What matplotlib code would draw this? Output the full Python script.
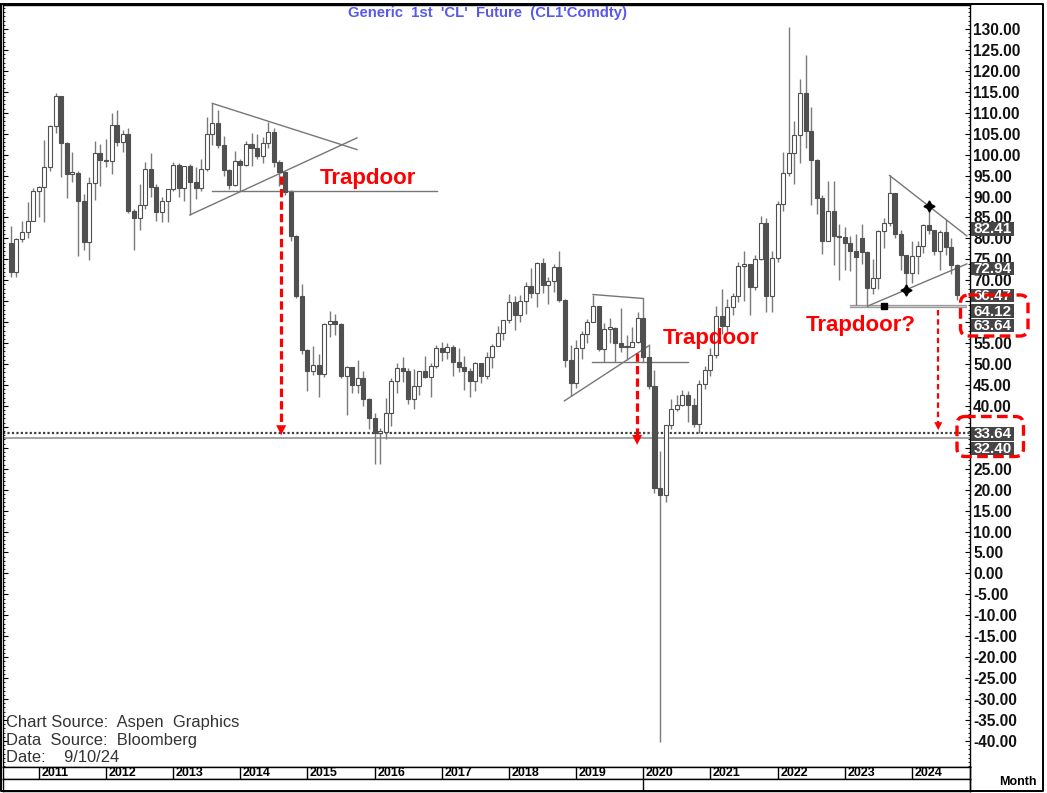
import numpy as np
import pandas as pd
import matplotlib
matplotlib.use('Agg')
import matplotlib.pyplot as plt
from matplotlib.patches import FancyBboxPatch, Rectangle
from matplotlib import font_manager as fm

# ---------------- data (monthly CL1 candles, Aug 2010 .. Sep 2024) ----------------
first_month = '2010-08'
last_month = '2024-09'

opens = [78.95, 71.92, 79.97, 81.43, 84.11,
         91.38, 92.19, 96.97, 106.72, 113.93, 102.70, 95.42, 95.70, 88.81, 79.20, 93.19, 100.36,
         98.83, 98.48, 107.07, 103.02, 104.87, 86.53, 84.96, 88.06, 96.47, 92.19, 86.24, 88.91,
         91.82, 97.49, 92.05, 97.23, 93.46, 91.97, 96.56, 105.03, 107.65, 102.33, 96.38, 92.72,
         98.42, 97.49, 102.59, 101.58, 99.74, 102.71, 105.37, 98.17, 95.96, 91.16, 80.54, 66.15,
         53.27, 48.24, 49.76, 47.60, 59.63, 60.30, 59.47, 47.12, 49.20, 45.09, 46.59, 41.65,
         37.04, 33.62, 33.75, 38.34, 45.92, 49.10, 48.33, 41.60, 44.70, 48.24, 46.86, 49.44,
         53.72, 52.81, 54.01, 50.60, 49.33, 48.32, 46.04, 50.17, 47.23, 51.67, 54.38, 57.40,
         60.42, 64.73, 61.64, 64.94, 68.57, 67.04, 74.15, 68.76, 69.80, 73.25, 65.31, 50.93,
         45.41, 53.79, 57.22, 60.14, 63.91, 53.50, 58.47, 58.58, 55.10, 54.07, 54.18, 55.17,
         61.06, 51.56, 44.76, 20.48, 18.84, 35.49, 39.27, 40.27, 42.61, 40.22, 35.79, 45.34,
         48.52, 52.20, 61.50, 59.16, 63.58, 66.32, 73.47, 73.95, 68.50, 75.03, 83.57, 66.18,
         75.21, 88.15, 95.72, 100.28, 104.69, 114.67, 105.76, 98.62, 89.55, 79.49, 86.53, 80.55,
         80.26, 78.87, 77.05, 80.10, 76.78, 68.09, 70.64, 81.80, 83.63, 90.79, 81.02, 75.96,
         71.65, 75.85, 78.26, 83.17, 81.93, 76.99, 81.54, 77.91, 73.55]
highs = [82.98, 80.06, 84.21, 88.63, 92.06,
         92.58, 103.41, 107.00, 114.83, 114.00, 103.00, 100.62, 96.00, 90.50, 94.65, 103.37, 102.44,
         103.74, 109.95, 110.55, 106.00, 106.43, 87.00, 92.94, 98.30, 100.42, 93.00, 90.00, 91.00,
         98.24, 98.00, 97.35, 97.80, 97.00, 99.00, 108.90, 112.24, 110.70, 104.50, 96.50, 100.75,
         98.90, 103.20, 105.20, 104.99, 104.20, 107.68, 106.30, 98.60, 96.00, 91.50, 80.90, 69.00,
         53.50, 54.24, 52.50, 59.90, 62.58, 61.90, 59.70, 49.50, 49.30, 50.90, 48.40, 42.00,
         38.39, 34.70, 41.90, 46.78, 50.21, 51.67, 49.00, 48.75, 48.40, 51.93, 50.20, 54.51,
         55.24, 54.94, 54.60, 53.76, 52.00, 49.00, 50.43, 50.20, 52.86, 54.90, 59.05, 60.51,
         66.66, 66.30, 66.55, 69.56, 72.90, 74.46, 75.27, 70.90, 73.90, 76.90, 65.50, 54.55,
         55.75, 57.81, 60.73, 66.60, 63.90, 59.90, 60.90, 58.80, 63.38, 56.90, 58.75, 62.34,
         65.65, 54.70, 48.66, 29.13, 35.50, 41.63, 42.50, 43.78, 43.50, 41.90, 46.26, 49.43,
         53.93, 63.81, 67.98, 65.47, 67.00, 74.45, 76.98, 74.00, 76.00, 85.41, 84.97, 76.90,
         88.84, 100.54, 130.50, 108.00, 118.00, 123.68, 111.45, 98.90, 90.40, 93.64, 93.74, 83.34,
         82.66, 80.60, 81.00, 83.53, 77.00, 75.06, 82.00, 84.89, 95.03, 90.90, 82.00, 76.00,
         79.29, 79.30, 83.50, 87.67, 82.00, 82.00, 84.52, 80.20, 73.90]
lows = [70.76, 70.76, 79.03, 80.01, 84.23,
        85.11, 83.85, 96.00, 105.20, 94.63, 89.61, 93.50, 75.71, 77.11, 74.95, 89.17, 92.52,
        97.00, 95.44, 102.00, 100.68, 86.00, 77.28, 82.00, 86.90, 90.00, 84.05, 84.00, 84.00,
        91.30, 90.00, 89.00, 85.61, 89.30, 91.30, 96.00, 102.22, 101.50, 95.00, 91.77, 92.50,
        91.24, 97.30, 97.40, 98.90, 98.00, 101.70, 97.00, 92.50, 90.40, 79.44, 65.69, 52.44,
        43.58, 47.50, 42.03, 47.00, 56.50, 57.00, 46.68, 37.75, 43.20, 43.00, 40.00, 34.53,
        26.19, 26.05, 32.00, 35.24, 43.00, 45.80, 40.50, 39.19, 42.50, 46.60, 42.20, 49.00,
        50.70, 51.20, 47.10, 48.20, 43.76, 42.05, 43.57, 45.58, 46.50, 49.10, 54.20, 55.80,
        59.90, 58.07, 59.95, 62.00, 65.80, 63.59, 67.00, 64.43, 67.30, 64.80, 49.41, 42.36,
        44.35, 51.20, 55.00, 60.00, 53.00, 50.60, 55.00, 50.52, 52.80, 50.99, 54.00, 55.00,
        50.58, 44.00, 19.27, -40.32, 17.00, 34.40, 38.70, 40.00, 36.13, 34.92, 33.64, 44.00,
        47.20, 51.50, 57.25, 57.60, 61.60, 64.90, 65.01, 61.74, 67.60, 74.96, 62.43, 62.43,
        74.27, 86.55, 95.00, 92.93, 97.90, 101.50, 88.00, 85.73, 76.25, 79.30, 73.60, 70.08,
        72.46, 72.25, 64.12, 73.80, 63.64, 66.80, 67.80, 77.60, 83.00, 80.10, 72.37, 67.71,
        69.30, 71.40, 76.60, 81.00, 76.00, 72.48, 76.00, 71.46, 65.27]
closes = [71.92, 79.97, 81.43, 84.11, 91.38,
          92.19, 96.97, 106.72, 113.93, 102.70, 95.42, 95.70, 88.81, 79.20, 93.19, 100.36, 98.83,
          98.48, 107.07, 103.02, 104.87, 86.53, 84.96, 88.06, 96.47, 92.19, 86.24, 88.91, 91.82,
          97.49, 92.05, 97.23, 93.46, 91.97, 96.56, 105.03, 107.65, 102.33, 96.38, 92.72, 98.42,
          97.49, 102.59, 101.58, 99.74, 102.71, 105.37, 98.17, 95.96, 91.16, 80.54, 66.15, 53.27,
          48.24, 49.76, 47.60, 59.63, 60.30, 59.47, 47.12, 49.20, 45.09, 46.59, 41.65, 37.04,
          33.62, 33.75, 38.34, 45.92, 49.10, 48.33, 41.60, 44.70, 48.24, 46.86, 49.44, 53.72,
          52.81, 54.01, 50.60, 49.33, 48.32, 46.04, 50.17, 47.23, 51.67, 54.38, 57.40, 60.42,
          64.73, 61.64, 64.94, 68.57, 67.04, 74.15, 68.76, 69.80, 73.25, 65.31, 50.93, 45.41,
          53.79, 57.22, 60.14, 63.91, 53.50, 58.47, 58.58, 55.10, 54.07, 54.18, 55.17, 61.06,
          51.56, 44.76, 20.48, 18.84, 35.49, 39.27, 40.27, 42.61, 40.22, 35.79, 45.34, 48.52,
          52.20, 61.50, 59.16, 63.58, 66.32, 73.47, 73.95, 68.50, 75.03, 83.57, 66.18, 75.21,
          88.15, 95.72, 100.28, 104.69, 114.67, 105.76, 98.62, 89.55, 79.49, 86.53, 80.55, 80.26,
          78.87, 77.05, 75.67, 76.78, 68.09, 70.64, 81.80, 83.63, 90.79, 81.02, 75.96, 71.65,
          75.85, 78.26, 83.17, 81.93, 76.99, 81.54, 77.91, 73.55, 66.47]

year_labels = [str(y) for y in range(2011, 2025)]
y_ticks = list(range(-40, 131, 5))
hidden_tick_labels = [65, 60, 35, 30]   # fully covered by the value boxes in the reference

# annotation levels
level_dotted = 33.64
level_solid = 32.40
box_values = ['82.41', '72.94', '66.47', '64.12', '63.64', '33.64', '32.40']
box_centers_px = [228.8, 268.3, 295.5, 311.2, 325.5, 433.7, 448.3]

title = "Generic  1st  'CL'  Future  (CL1'Comdty)"
footer = ["Chart Source:  Aspen  Graphics", "Data  Source:  Bloomberg", "Date:    9/10/24"]

# ---------------- setup ----------------
plt.rcParams['font.family'] = ['Liberation Sans', 'DejaVu Sans']
W, H = 1047, 793
fig = plt.figure(figsize=(W / 100, H / 100), dpi=100)
fig.patch.set_facecolor('white')


def px_axes(x0, y0, x1, y1):
    return fig.add_axes([x0 / W, 1 - y1 / H, (x1 - x0) / W, (y1 - y0) / H])


months = pd.period_range(first_month, last_month, freq='M')
idx = np.array([(p.year - 2011) * 12 + p.month - 1 for p in months], dtype=float)
o = np.array(opens); h = np.array(highs); l = np.array(lows); c = np.array(closes)

XL = (-6.40, 166.37)
YL = (-46.15, 135.73)

ax = px_axes(3, 5, 970, 766.7)
ax.set_xlim(*XL)
ax.set_ylim(*YL)

# wicks
ax.vlines(idx, l, h, color='#7a7a7a', lw=1.0, zorder=2)
# bodies
up = c >= o
bw = 0.72
bottom = np.minimum(o, c)
height = np.maximum(np.abs(c - o), 0.35)
ax.bar(idx[up], height[up], bottom=bottom[up], width=bw, facecolor='white',
       edgecolor='#505050', linewidth=0.8, zorder=3)
ax.bar(idx[~up], height[~up], bottom=bottom[~up], width=bw, facecolor='#505050',
       edgecolor='#505050', linewidth=0.8, zorder=3)

# horizontal levels
ax.axhline(level_dotted, color='#404040', lw=1.6, ls=(0, (1, 1)), zorder=1.5)
ax.axhline(level_solid, color='#8a8a8a', lw=1.1, zorder=1.5)

lc = '#767676'
# pattern 1 (2013-2014)
ax.plot([31, 56.85], [112.24, 101.2], color=lc, lw=1)
ax.plot([27, 56.85], [85.61, 104.0], color=lc, lw=1)
ax.plot([31, 71.1], [91.3, 91.3], color=lc, lw=1)
# pattern 2 (2019)
ax.plot([99, 108], [66.6, 65.65], color=lc, lw=1)
ax.plot([93.9, 108.9], [41.2, 54.3], color=lc, lw=1)
ax.plot([98.8, 116], [50.4, 50.4], color=lc, lw=1)
# pattern 3 (2023-2024)
ax.plot([152, 165.8], [95.03, 80.6], color=lc, lw=1)
ax.plot([148.2, 165.8], [63.9, 73.9], color=lc, lw=1)
ax.fill_between([144.9, 165.7], 63.64, 64.12, color='#cfcfcf', zorder=1.8)
ax.plot([144.9, 165.7], [64.12, 64.12], color='#9a9a9a', lw=0.8, zorder=1.9)
ax.plot([144.9, 165.7], [63.64, 63.64], color='#9a9a9a', lw=0.8, zorder=1.9)
ax.plot([159, 155], [87.67, 67.71], ls='none', marker=(4, 1, 0), ms=8, color='black', zorder=5)
ax.plot([151], [63.95], ls='none', marker='s', ms=4.5, color='black', zorder=5)

# red dashed arrows
def arrow(x, y_top, y_tip, lw_px, head_px, dashes):
    hl = head_px / 4.188
    hw = head_px / 5.597 / 2
    ax.plot([x, x], [y_top, y_tip + hl * 0.8], color='red', lw=lw_px * 0.72,
            dashes=dashes, zorder=6)
    ax.fill([x - hw, x + hw, x], [y_tip + hl, y_tip + hl, y_tip], color='red', zorder=6, lw=0)

arrow(43.3, 95.0, 33.0, 3.2, 10, (2.6, 1.3))
arrow(106.9, 52.6, 30.7, 3.2, 10, (2.6, 1.3))
arrow(160.7, 62.9, 34.2, 2.2, 8, (2.5, 1.7))

ax.text(50.2, 94.4, 'Trapdoor', color='red', fontsize=16, fontweight='bold', va='center', ha='left', zorder=7)
ax.text(111.4, 56.2, 'Trapdoor', color='red', fontsize=16, fontweight='bold', va='center', ha='left', zorder=7)
ax.text(137.1, 59.1, 'Trapdoor?', color='red', fontsize=16, fontweight='bold', va='center', ha='left', zorder=7)

# axes styling
ax.set_xticks([])
ax.set_yticks(y_ticks)
ax.set_yticks(np.arange(-46, 136, 1), minor=True)
ax.set_yticklabels(['' if v in hidden_tick_labels else '%.2f' % v for v in y_ticks])
ax.yaxis.set_ticks_position('both')
ax.tick_params(axis='y', which='major', direction='in', length=3.5, width=0.8,
               labelleft=False, labelright=True, pad=2.2, labelsize=11.2, colors='black')
ax.tick_params(axis='y', which='minor', direction='in', length=1.6, width=0.6,
               left=True, right=True)
for t in ax.get_yticklabels():
    t.set_fontweight('bold')
    t.set_color('#111111')
for s in ax.spines.values():
    s.set_color('black')
    s.set_linewidth(1.0)

# date strip
ax2 = px_axes(3, 766.7, 970, 779)
ax2.set_xlim(*XL)
ax2.set_ylim(0, 1)
ax2.set_xticks([]); ax2.set_yticks([])
for k, lab in enumerate(year_labels):
    xv = 12 * k
    ax2.axvline(xv, color='black', lw=1)
    ax2.text(xv + 0.45, 0.45, lab, fontsize=9, fontweight='bold', va='center', ha='left')
for s in ax2.spines.values():
    s.set_linewidth(1.0)

ax3 = px_axes(3, 779, 970, 790.7)
ax3.set_xlim(*XL)
ax3.set_ylim(0, 1)
ax3.set_xticks([]); ax3.set_yticks([])
ax3.axvline(108, color='black', lw=1)
for s in ax3.spines.values():
    s.set_linewidth(1.0)

# overlay in pixel coordinates
ov = fig.add_axes([0, 0, 1, 1])
ov.set_xlim(0, W)
ov.set_ylim(H, 0)
ov.axis('off')
ov.set_zorder(10)

ov.plot([1, 1043, 1043, 1, 1], [4, 4, 790.7, 790.7, 4], color='black', lw=1.4)
ov.plot([970, 970], [766, 790.7], color='black', lw=1)
ov.text(487, 13, title, color='#5858ee', fontsize=10.7, fontweight='bold', ha='center', va='center')
ov.text(1018, 782, 'Month', fontsize=9, fontweight='bold', ha='center', va='center')

narrow = 'Liberation Sans Narrow'
try:
    fm.findfont(fm.FontProperties(family=narrow), fallback_to_default=False)
    ffam = [narrow, 'Liberation Sans']
    fsz = 13
except Exception:
    ffam = ['Liberation Sans']
    fsz = 11.9
for ytxt, s in zip([723, 741, 758], footer):
    ov.text(6, ytxt, s, fontsize=fsz, family=ffam, color='#333333', ha='left', va='center')

for val, yc in zip(box_values, box_centers_px):
    ov.add_patch(Rectangle((971, yc - 6.8), 43, 13.6, facecolor='#454545', edgecolor='none', zorder=3))
    ov.text(992.5, yc + 0.3, val, color='white', fontsize=11, fontweight='bold', ha='center', va='center', zorder=4)

for (x0, y0, x1, y1) in [(960.5, 295, 1028, 336), (957, 416.5, 1023.5, 456.5)]:
    ov.add_patch(FancyBboxPatch((x0, y0), x1 - x0, y1 - y0,
                                boxstyle='round,pad=0,rounding_size=8',
                                facecolor='none', edgecolor='red', lw=2.4,
                                ls=(0, (3.2, 1.6)), zorder=5))

fig.savefig('out.png', dpi=100, facecolor='white')
